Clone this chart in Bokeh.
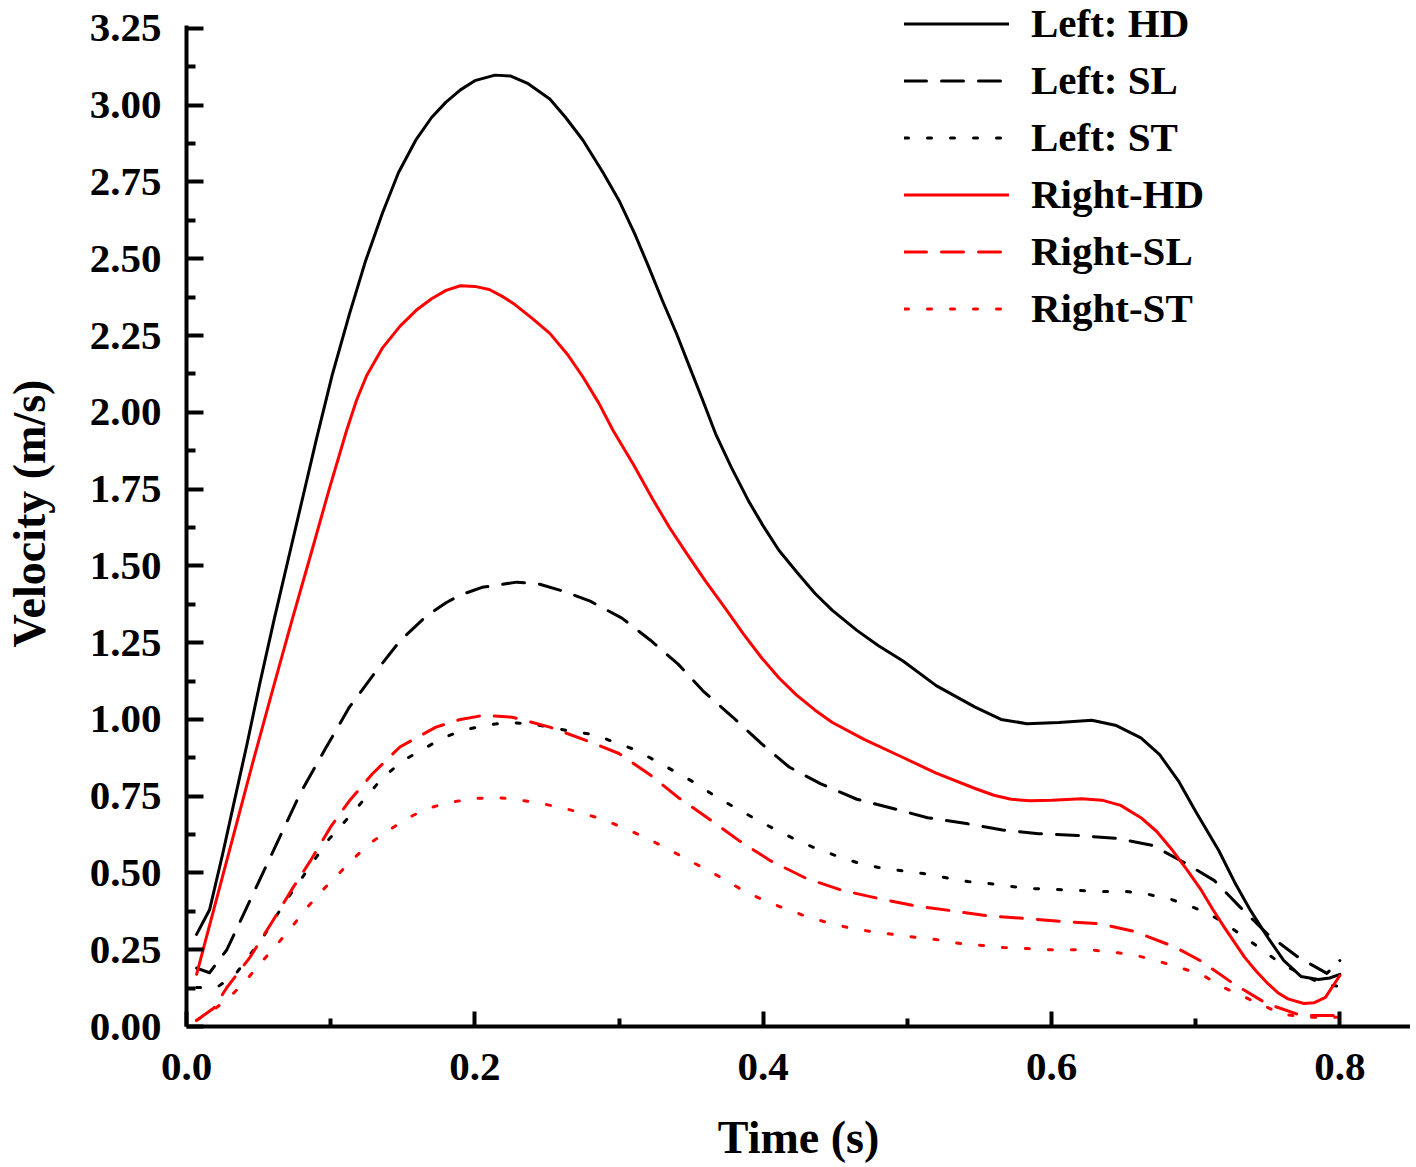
from bokeh.plotting import figure
from bokeh.models import Legend, LegendItem, FixedTicker, PrintfTickFormatter, Range1d
from bokeh.embed import file_html
from bokeh.resources import INLINE

# ---------------- data ----------------
left_hd_t = [0.007, 0.016, 0.025, 0.033, 0.042, 0.051, 0.061, 0.072, 0.081, 0.09, 0.101, 0.113, 0.124,
             0.136, 0.147, 0.159, 0.17, 0.18, 0.19, 0.2, 0.214, 0.225, 0.237, 0.252, 0.263, 0.275,
             0.289, 0.3, 0.311, 0.32, 0.33, 0.34, 0.349, 0.358, 0.367, 0.378, 0.39, 0.4, 0.411,
             0.425, 0.436, 0.448, 0.465, 0.48, 0.497, 0.52, 0.547, 0.565, 0.583, 0.605, 0.628,
             0.645, 0.662, 0.675, 0.688, 0.7, 0.716, 0.727, 0.738, 0.75, 0.761, 0.773, 0.785,
             0.793, 0.8]
left_hd_v = [0.30, 0.38, 0.56, 0.73, 0.92, 1.12, 1.33, 1.55, 1.73, 1.91, 2.12, 2.32, 2.49,
             2.65, 2.78, 2.886, 2.96, 3.01, 3.05, 3.08, 3.098, 3.095, 3.07, 3.02, 2.96, 2.886,
             2.78, 2.69, 2.58, 2.48, 2.365, 2.255, 2.147, 2.04, 1.93, 1.82, 1.71, 1.63, 1.55,
             1.47, 1.41, 1.355, 1.29, 1.24, 1.19, 1.11, 1.04, 1.00, 0.986, 0.99, 0.997,
             0.98, 0.94, 0.885, 0.80, 0.70, 0.573, 0.47, 0.378, 0.29, 0.215, 0.163, 0.153,
             0.158, 0.17]

left_sl_t = [0.007, 0.016, 0.028, 0.044, 0.062, 0.079, 0.097, 0.113, 0.132, 0.148, 0.166, 0.18, 0.19,
             0.205, 0.229, 0.245, 0.263, 0.28, 0.302, 0.322, 0.341, 0.358, 0.379, 0.399, 0.418,
             0.44, 0.465, 0.49, 0.514, 0.542, 0.566, 0.591, 0.618, 0.646, 0.67, 0.692, 0.713,
             0.731, 0.75, 0.771, 0.791, 0.8]
left_sl_v = [0.19, 0.175, 0.25, 0.41, 0.59, 0.76, 0.91, 1.04, 1.16, 1.255, 1.335, 1.38, 1.405,
             1.43, 1.447, 1.44, 1.415, 1.385, 1.33, 1.257, 1.18, 1.094, 1.007, 0.92, 0.845,
             0.79, 0.74, 0.71, 0.68, 0.66, 0.64, 0.628, 0.622, 0.612, 0.59, 0.534, 0.475,
             0.388, 0.30, 0.226, 0.173, 0.215]

left_st_t = [0.007, 0.021, 0.034, 0.053, 0.069, 0.087, 0.097, 0.116, 0.136, 0.15, 0.163, 0.178, 0.192,
             0.207, 0.222, 0.238, 0.252, 0.268, 0.284, 0.297, 0.312, 0.325, 0.34, 0.352, 0.366, 0.38,
             0.393, 0.407, 0.421, 0.435, 0.45, 0.465, 0.48, 0.495, 0.511, 0.526, 0.542, 0.556, 0.572,
             0.588, 0.603, 0.618, 0.635, 0.651, 0.664, 0.681, 0.695, 0.709, 0.722, 0.734, 0.747,
             0.759, 0.773, 0.787, 0.8]
left_st_v = [0.127, 0.127, 0.17, 0.29, 0.41, 0.53, 0.60, 0.70, 0.81, 0.865, 0.90, 0.94, 0.965,
             0.98, 0.99, 0.986, 0.975, 0.96, 0.95, 0.925, 0.90, 0.866, 0.827, 0.795, 0.752, 0.714,
             0.68, 0.645, 0.612, 0.583, 0.557, 0.534, 0.518, 0.508, 0.498, 0.485, 0.472, 0.466, 0.456,
             0.449, 0.446, 0.443, 0.44, 0.44, 0.433, 0.417, 0.394, 0.368, 0.33, 0.29, 0.247,
             0.205, 0.172, 0.14, 0.13]

right_hd_t = [0.007, 0.02, 0.033, 0.046, 0.06, 0.073, 0.087, 0.099, 0.111, 0.118, 0.125, 0.136, 0.148,
              0.16, 0.17, 0.18, 0.19, 0.2, 0.21, 0.22, 0.228, 0.24, 0.252, 0.264, 0.275, 0.286,
              0.296, 0.31, 0.323, 0.335, 0.347, 0.36, 0.374, 0.386, 0.399, 0.411, 0.423, 0.436,
              0.448, 0.47, 0.497, 0.52, 0.547, 0.56, 0.572, 0.585, 0.6, 0.621, 0.635, 0.648, 0.662,
              0.673, 0.684, 0.694, 0.704, 0.712, 0.72, 0.734, 0.742, 0.75, 0.757, 0.764, 0.775,
              0.782, 0.79, 0.8]
right_hd_v = [0.17, 0.40, 0.63, 0.86, 1.10, 1.32, 1.55, 1.75, 1.94, 2.04, 2.12, 2.21, 2.28,
              2.335, 2.37, 2.397, 2.412, 2.41, 2.40, 2.375, 2.35, 2.305, 2.257, 2.19, 2.115, 2.03,
              1.94, 1.83, 1.72, 1.625, 1.54, 1.45, 1.36, 1.28, 1.20, 1.135, 1.08, 1.03,
              0.99, 0.935, 0.876, 0.825, 0.775, 0.753, 0.74, 0.735, 0.737, 0.742, 0.737, 0.72, 0.68,
              0.635, 0.573, 0.51, 0.443, 0.38, 0.322, 0.225, 0.18, 0.14, 0.11, 0.09, 0.075,
              0.077, 0.095, 0.166]

right_sl_t = [0.007, 0.019, 0.028, 0.044, 0.06, 0.074, 0.086, 0.1, 0.113, 0.129, 0.148, 0.173, 0.19,
              0.206, 0.226, 0.252, 0.278, 0.3, 0.322, 0.341, 0.364, 0.383, 0.405, 0.43, 0.455, 0.48,
              0.504, 0.529, 0.556, 0.581, 0.608, 0.633, 0.657, 0.685, 0.703, 0.726, 0.749, 0.773, 0.8]
right_sl_v = [0.02, 0.06, 0.127, 0.225, 0.345, 0.453, 0.54, 0.65, 0.735, 0.823, 0.91, 0.975, 1.0,
              1.013, 1.007, 0.975, 0.93, 0.889, 0.818, 0.746, 0.671, 0.606, 0.54, 0.482, 0.443, 0.417,
              0.394, 0.378, 0.36, 0.352, 0.342, 0.335, 0.31, 0.26, 0.215, 0.14, 0.075, 0.036, 0.036]

right_st_t = [0.007, 0.021, 0.033, 0.043, 0.053, 0.064, 0.074, 0.083, 0.093, 0.104, 0.116, 0.127, 0.14,
              0.154, 0.167, 0.183, 0.199, 0.214, 0.228, 0.245, 0.26, 0.275, 0.289, 0.304, 0.318, 0.332,
              0.345, 0.359, 0.372, 0.386, 0.401, 0.415, 0.429, 0.444, 0.459, 0.475, 0.49, 0.506, 0.52,
              0.537, 0.552, 0.567, 0.583, 0.599, 0.615, 0.63, 0.646, 0.66, 0.676, 0.69, 0.704, 0.718,
              0.732, 0.746, 0.76, 0.778, 0.8]
right_st_v = [0.02, 0.062, 0.11, 0.16, 0.215, 0.274, 0.33, 0.384, 0.437, 0.49, 0.547, 0.596, 0.638,
              0.68, 0.71, 0.73, 0.742, 0.746, 0.74, 0.727, 0.713, 0.694, 0.674, 0.645, 0.616, 0.583,
              0.55, 0.515, 0.482, 0.443, 0.41, 0.384, 0.36, 0.339, 0.322, 0.309, 0.3, 0.29, 0.283,
              0.27, 0.264, 0.257, 0.254, 0.25, 0.25, 0.248, 0.24, 0.23, 0.21, 0.19, 0.17, 0.13,
              0.1, 0.07, 0.04, 0.03, 0.03]

series_labels = ["Left: HD", "Left: SL", "Left: ST", "Right-HD", "Right-SL", "Right-ST"]

x_major_ticks = [0.0, 0.2, 0.4, 0.6, 0.8]
x_minor_ticks = [0.1, 0.3, 0.5, 0.7]
y_major_ticks = [0.0, 0.25, 0.5, 0.75, 1.0, 1.25, 1.5, 1.75, 2.0, 2.25, 2.5, 2.75, 3.0, 3.25]
y_minor_ticks = [0.125, 0.375, 0.625, 0.875, 1.125, 1.375, 1.625, 1.875, 2.125, 2.375, 2.625,
                 2.875, 3.125]

# ---------------- figure ----------------
FONT = "Liberation Serif"
p = figure(width=1410, height=1166, output_backend="svg", toolbar_location=None,
           x_range=Range1d(0, 0.849), y_range=Range1d(0, 3.341),
           min_border_left=183, min_border_right=0, min_border_top=0, min_border_bottom=140)
p.outline_line_color = None
p.xgrid.visible = False
p.ygrid.visible = False
p.background_fill_color = "white"

black = "#000000"
red = "#ff0000"
LW = 3
DASH = "22 15"
DOT = "4 19"

specs = [
    (left_hd_t, left_hd_v, black, "solid"),
    (left_sl_t, left_sl_v, black, DASH),
    (left_st_t, left_st_v, black, DOT),
    (right_hd_t, right_hd_v, red, "solid"),
    (right_sl_t, right_sl_v, red, DASH),
    (right_st_t, right_st_v, red, DOT),
]
renderers = []
for (t, v, c, dash) in specs:
    r = p.line(t, v, line_color=c, line_width=LW, line_dash=dash, line_cap="round",
               line_join="round")
    renderers.append(r)

# axes
for ax in (p.xaxis[0], p.yaxis[0]):
    ax.axis_line_width = 4
    ax.axis_line_color = black
    ax.major_tick_line_width = 4
    ax.minor_tick_line_width = 4
    ax.major_tick_out = 0
    ax.minor_tick_out = 0
    ax.major_label_text_font = FONT
    ax.major_label_text_font_style = "bold"
    ax.major_label_text_font_size = "41px"
    ax.major_label_text_color = black
    ax.axis_label_text_font = FONT
    ax.axis_label_text_font_style = "bold"
    ax.axis_label_text_font_size = "46px"
    ax.axis_label_text_color = black

p.yaxis[0].bounds = (0, 3.26)
p.xaxis[0].ticker = FixedTicker(ticks=x_major_ticks, minor_ticks=x_minor_ticks)
p.yaxis[0].ticker = FixedTicker(ticks=y_major_ticks, minor_ticks=y_minor_ticks)
p.xaxis[0].formatter = PrintfTickFormatter(format="%.1f")
p.yaxis[0].formatter = PrintfTickFormatter(format="%.2f")
p.xaxis[0].major_tick_in = 15
p.xaxis[0].minor_tick_in = 8
p.yaxis[0].major_tick_in = 17
p.yaxis[0].minor_tick_in = 9
p.xaxis[0].major_label_standoff = 27
p.yaxis[0].major_label_standoff = 25
p.xaxis[0].axis_label = "Time (s)"
p.yaxis[0].axis_label = "Velocity (m/s)"
p.xaxis[0].axis_label_standoff = 29
p.yaxis[0].axis_label_standoff = 32

items = [LegendItem(label=lab, renderers=[r]) for lab, r in zip(series_labels, renderers)]
legend = Legend(items=items, location=(718, 694), orientation="vertical",
                label_text_font=FONT, label_text_font_style="bold", label_text_font_size="41px",
                label_text_color=black, glyph_width=105, glyph_height=47, label_height=47,
                label_standoff=22, spacing=9, padding=0, margin=0,
                border_line_color=None, background_fill_alpha=0)
p.add_layout(legend, "center")

open("out.html", "w").write(file_html(p, INLINE))
